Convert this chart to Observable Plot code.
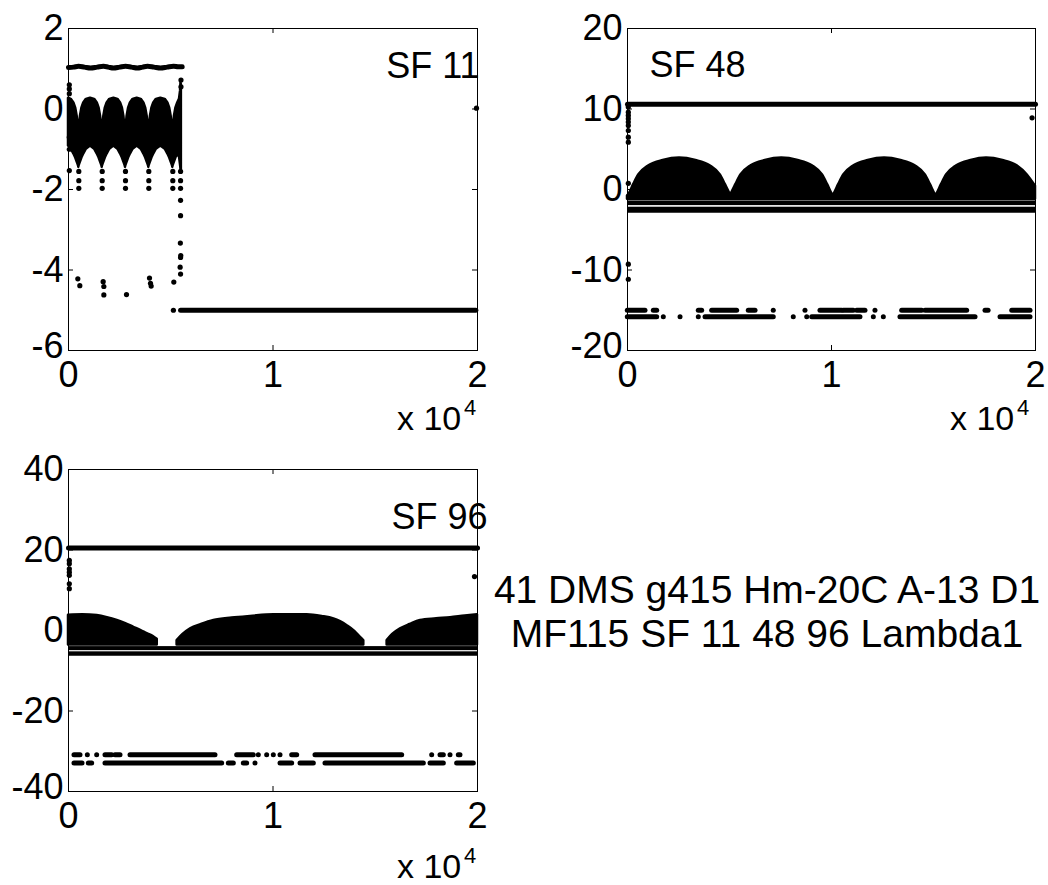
<!DOCTYPE html>
<html>
<head>
<meta charset="utf-8">
<script src="https://cdn.jsdelivr.net/npm/d3@7"></script>
<script src="https://cdn.jsdelivr.net/npm/@observablehq/plot@0.6"></script>
<style>
  html, body { margin: 0; padding: 0; background: #fff; }
  #fig { position: relative; width: 1048px; height: 885px; overflow: hidden; background: #fff; }
  #fig > svg, #fig > figure { position: absolute; margin: 0; }
  .ov text { font-family: "Liberation Sans", Arial, sans-serif; fill: #000; }
</style>
</head>
<body>
<div id="fig"></div>
<script>
// ---------------- shared axis data ----------------
const xTicks = [0, 10000, 20000];
const xMax = 20000;

// ---------------- SF 11 (top left) ----------------
const sf11YTicks = [-6, -4, -2, 0, 2];
const sf11WaveX = [0, 250, 490, 780, 1080, 1400, 1710, 1950, 2200, 2500, 2790, 3080, 3370, 3620, 3860, 4180, 4500, 4820, 5130, 5350, 5560];
const sf11WaveY = [1.03, 1.04, 1.06, 1.04, 1.02, 1.04, 1.06, 1.04, 1.02, 1.04, 1.06, 1.04, 1.02, 1.04, 1.06, 1.04, 1.02, 1.04, 1.06, 1.05, 1.05];
const sf11BandX = [
  0, 134, 264, 354, 424, 469, 494,
  504, 514, 539, 584, 654, 744, 874, 1076, 1278, 1408, 1498, 1568, 1613, 1638,
  1648, 1658, 1683, 1728, 1798, 1888, 2018, 2218, 2417, 2547, 2637, 2707, 2752, 2777,
  2787, 2797, 2822, 2867, 2937, 3027, 3157, 3357, 3557, 3687, 3777, 3847, 3892, 3917,
  3927, 3937, 3962, 4007, 4077, 4167, 4297, 4513, 4730, 4860, 4950, 5020, 5065, 5090,
  5100, 5110, 5135, 5180, 5250, 5340, 5430, 5480, 5500, 5520];
const sf11BandTop = [
  0.27, 0.24, 0.15, 0.02, -0.18, -0.4, -0.6,
  -0.8, -0.6, -0.4, -0.18, 0.02, 0.15, 0.24, 0.27, 0.24, 0.15, 0.02, -0.18, -0.4, -0.6,
  -0.8, -0.6, -0.4, -0.18, 0.02, 0.15, 0.24, 0.27, 0.24, 0.15, 0.02, -0.18, -0.4, -0.6,
  -0.8, -0.6, -0.4, -0.18, 0.02, 0.15, 0.24, 0.27, 0.24, 0.15, 0.02, -0.18, -0.4, -0.6,
  -0.8, -0.6, -0.4, -0.18, 0.02, 0.15, 0.24, 0.27, 0.24, 0.15, 0.02, -0.18, -0.4, -0.6,
  -0.8, -0.6, -0.4, -0.18, 0.02, 0.15, 0.25, 0.45, 0.65, 0.6];
const sf11BandBottom = [
  -0.92, -1.0, -1.12, -1.22, -1.32, -1.38, -1.42,
  -1.45, -1.42, -1.38, -1.32, -1.22, -1.12, -1.0, -0.92, -1.0, -1.12, -1.22, -1.32, -1.38, -1.42,
  -1.45, -1.42, -1.38, -1.32, -1.22, -1.12, -1.0, -0.92, -1.0, -1.12, -1.22, -1.32, -1.38, -1.42,
  -1.45, -1.42, -1.38, -1.32, -1.22, -1.12, -1.0, -0.92, -1.0, -1.12, -1.22, -1.32, -1.38, -1.42,
  -1.45, -1.42, -1.38, -1.32, -1.22, -1.12, -1.0, -0.92, -1.0, -1.12, -1.22, -1.32, -1.38, -1.42,
  -1.45, -1.42, -1.38, -1.32, -1.22, -1.12, -1.2, -1.4, -1.5, -1.5];
const sf11DotX = [40, 40, 40, 40, 40, 40,
  504, 504, 504, 1648, 1648, 1648, 2787, 2787, 2787, 3927, 3927, 3927, 5100, 5100, 5100,
  5480, 5480, 5480, 5480, 5480, 5470, 5490, 5480, 5460, 5480,
  5500, 5500,
  456, 554, 1695, 1728, 1728, 2836, 3961, 4010, 4042, 5150, 5130, 19950];
const sf11DotY = [0.6, 0.5, 0.38, -0.7, -1.0, -1.53,
  -1.55, -1.78, -1.97, -1.55, -1.78, -1.97, -1.55, -1.78, -1.97, -1.55, -1.78, -1.97, -1.55, -1.78, -1.97,
  -1.55, -1.78, -1.97, -2.27, -2.65, -3.33, -3.64, -3.69, -3.93, -4.1,
  0.72, 0.55,
  -4.22, -4.39, -4.29, -4.41, -4.62, -4.61, -4.2, -4.33, -4.4, -4.3, -5.0, 0.02];
const sf11FloorX = [5480, 19920];
const sf11FloorY = [-5, -5];

// ---------------- SF 48 (top right) ----------------
const sf48YTicks = [-20, -10, 0, 10, 20];
const sf48TopX = [0, 20000];
const sf48TopY = [10.6, 10.6];
const sf48DomeX = [0, 70, 300, 550, 1050, 1750, 2550, 3350, 4050, 4550, 4800, 5030, 5055,
  5080, 5310, 5560, 6060, 6760, 7560, 8360, 9060, 9560, 9810, 10040, 10080,
  10120, 10350, 10600, 11100, 11800, 12600, 13400, 14100, 14600, 14850, 15080, 15120,
  15160, 15390, 15640, 16140, 16840, 17600, 18400, 19100, 19600, 20000];
const sf48DomeTop = [-0.8, -0.6, 0.6, 1.8, 2.95, 3.6, 3.9, 3.6, 2.95, 1.8, 0.6, -0.6, -0.75,
  -0.6, 0.6, 1.8, 2.95, 3.6, 3.9, 3.6, 2.95, 1.8, 0.6, -0.6, -0.75,
  -0.6, 0.6, 1.8, 2.95, 3.6, 3.9, 3.6, 2.95, 1.8, 0.6, -0.6, -0.75,
  -0.6, 0.6, 1.8, 2.95, 3.6, 3.9, 3.6, 2.95, 1.8, 0.4];
const sf48DomeBottom = -1.2;
const sf48BandHigh = [-1.42, -2.2];
const sf48BandLow = [-2.0, -2.95];
const sf48DotX = [40, 40, 40, 40, 40, 40, 40, 40, 40, 40, 40, 40, 19832];
const sf48DotY = [10.24, 9.6, 9.2, 8.8, 8.37, 7.95, 7.33, 6.5, 5.88, 0.77, -9.28, -11.15, 8.9];
const sf48Row1Y = -15.0;
const sf48Row1Start = [15, 1290, 3495, 4150, 5945, 7170, 8725, 9460, 10600, 11260, 12155, 13465, 14610, 17550, 18860];
const sf48Row1End   = [882, 1455, 3660, 5375, 6275, 7170, 8725, 10525, 11090, 11665, 12155, 14445, 16650, 17700, 19755];
const sf48Row2Y = -15.8;
const sf48Row2Start = [15, 1780, 2600, 3495, 3825, 8150, 8810, 9055, 12075, 12565, 13380, 18285];
const sf48Row2End   = [1455, 1780, 2600, 3495, 7170, 8150, 8810, 11420, 12075, 12565, 17060, 19755];

// ---------------- SF 96 (bottom left) ----------------
const sf96YTicks = [-40, -20, 0, 20, 40];
const sf96TopX = [0, 20000];
const sf96TopY = [20.5, 20.5];
const sf96BlobX = [0, 700, 1400, 1900, 2380, 2800, 3195, 3550, 3850, 4150, 4340,
  5310, 5600, 5970, 6500, 7110, 8000, 8900, 10040, 11670, 12400, 12975, 13300, 13630, 14000, 14280, 14440,
  15580, 15850, 16235, 16700, 17210, 18000, 18680, 19400, 20000];
const sf96BlobTop = [3.8, 3.9, 3.7, 3.2, 2.5, 1.7, 0.8, 0.0, -0.8, -1.5, -2.2,
  -2.5, -1.0, 0.4, 1.5, 2.5, 3.1, 3.5, 3.9, 3.9, 3.5, 2.9, 2.2, 1.2, -0.2, -1.7, -2.5,
  -2.5, -1.0, 0.4, 1.5, 2.5, 2.9, 3.2, 3.6, 3.9];
const sf96BlobId = [0,0,0,0,0,0,0,0,0,0,0, 1,1,1,1,1,1,1,1,1,1,1,1,1,1,1,1, 2,2,2,2,2,2,2,2,2];
const sf96BlobBottom = -3.6;
const sf96BandHigh = [-4.0, -5.3];
const sf96BandLow = [-5.0, -6.4];
const sf96DotX = [40, 40, 40, 40, 40, 40, 40, 19853];
const sf96DotY = [17.4, 16.6, 15.3, 14.5, 13.7, 11.6, 10.4, 13.4];
const sf96Row1Y = -30.9;
const sf96Row1Start = [293, 945, 1402, 1809, 2298, 3032, 8248, 9306, 9715, 10040, 10367, 10938, 12078, 17784, 18191, 18680, 19086];
const sf96Row1End   = [587, 945, 1402, 2136, 2543, 7188, 9063, 9306, 9715, 10040, 10367, 11183, 16317, 17784, 18353, 18680, 19168];
const sf96Row2Y = -32.9;
const sf96Row2Start = [293, 994, 1809, 7840, 8573, 9144, 10367, 11345, 12567, 17702, 19005];
const sf96Row2End   = [685, 1157, 7514, 8084, 8736, 9144, 10938, 11997, 17375, 18353, 19820];

const panelTitles = ["SF 11", "SF 48", "SF 96"];
const noteLines = ["41 DMS g415 Hm-20C A-13 D1", "MF115 SF 11 48 96 Lambda1"];
const expLabel = ["x 10", "4"];

// ---------------- helpers ----------------
const FONT = "'Liberation Sans', Arial, Helvetica, sans-serif";
const zipXY = (xs, ys) => xs.map((x, i) => ({x, y: ys[i]}));
const rows = (starts, ends, y) => starts.map((s, i) => ({x1: s, x2: ends[i], y}));

function panel({yDomain, yTicks, marks, width, marginLeft, marginRight, title, titleAnchor, titleDx, titleDy, titleAlign}) {
  const tx = xMax * 5 / 409;
  const ty = (yDomain[1] - yDomain[0]) * 5 / 322;
  const yAxisOpts = {tickSize: 0, tickPadding: 5, tickFormat: d => String(d), label: null, fontSize: 36, fill: "#000"};
  return Plot.plot({
    width, height: 400,
    marginLeft, marginRight, marginTop: 28, marginBottom: 50,
    x: {domain: [0, xMax]},
    y: {domain: yDomain},
    style: {fontFamily: FONT, fontSize: "36px", color: "#000", background: "transparent", overflow: "visible"},
    marks: [
      ...marks,
      Plot.frame({stroke: "#000", strokeWidth: 1}),
      Plot.ruleY(yTicks, {y: d => d, x1: 0, x2: tx, stroke: "#000"}),
      Plot.ruleY(yTicks, {y: d => d, x1: xMax - tx, x2: xMax, stroke: "#000"}),
      Plot.ruleX(xTicks, {x: d => d, y1: yDomain[0], y2: yDomain[0] + ty, stroke: "#000"}),
      Plot.ruleX(xTicks, {x: d => d, y1: yDomain[1] - ty, y2: yDomain[1], stroke: "#000"}),
      Plot.axisY(yTicks.slice(1), yAxisOpts),
      Plot.axisY(yTicks.slice(0, 1), {...yAxisOpts, dy: -4}),
      Plot.axisX(xTicks, {tickSize: 0, tickPadding: 11, tickFormat: d => String(d / 1e4), label: null, fontSize: 36, fill: "#000"}),
      Plot.text([title], {frameAnchor: titleAnchor, text: d => d, dx: titleDx, dy: titleDy, textAnchor: titleAlign, lineAnchor: "top", fontSize: 36, fill: "#000"})
    ]
  });
}

function scatterMarks({lines, areas, bands, dots, rowSets}) {
  const m = [];
  for (const a of areas) m.push(Plot.areaY(a.data, {x: "x", y1: "y1", y2: "y2", z: a.z ? "z" : undefined, fill: "#000", stroke: "#000", strokeWidth: 2.5, curve: a.curve || "linear"}));
  for (const b of bands) m.push(Plot.rectY(b, {x1: 0, x2: xMax, y1: "y1", y2: "y2", fill: "#000", inset: 0}));
  for (const l of lines) m.push(Plot.line(l.data, {x: "x", y: "y", stroke: "#000", strokeWidth: 5, curve: l.curve || "linear"}));
  for (const r of rowSets) m.push(Plot.ruleY(r, {y: "y", x1: "x1", x2: "x2", stroke: "#000", strokeWidth: 5, strokeLinecap: "round"}));
  m.push(Plot.dot(dots, {x: "x", y: "y", r: 2.6, fill: "#000", stroke: "none"}));
  return m;
}

const fig = document.getElementById("fig");

// Panel SF 11
const p1 = panel({
  yDomain: [-6, 2], yTicks: sf11YTicks, width: 507, marginLeft: 68, marginRight: 30,
  title: panelTitles[0], titleAnchor: "top-right", titleDx: 2, titleDy: 24, titleAlign: "end",
  marks: scatterMarks({
    areas: [{data: sf11BandX.map((x, i) => ({x, y1: sf11BandBottom[i], y2: sf11BandTop[i]}))}],
    bands: [],
    lines: [{data: zipXY(sf11WaveX, sf11WaveY), curve: "catmull-rom"}, {data: zipXY(sf11FloorX, sf11FloorY)}],
    rowSets: [],
    dots: zipXY(sf11DotX, sf11DotY)
  })
});
p1.style.left = "0px"; p1.style.top = "0px";
fig.appendChild(p1);

// Panel SF 48
const p2 = panel({
  yDomain: [-20, 20], yTicks: sf48YTicks, width: 488, marginLeft: 67, marginRight: 13,
  title: panelTitles[1], titleAnchor: "top-left", titleDx: 22, titleDy: 23, titleAlign: "start",
  marks: scatterMarks({
    areas: [{data: sf48DomeX.map((x, i) => ({x, y1: sf48DomeBottom, y2: sf48DomeTop[i]})), curve: "monotone-x"}],
    bands: [sf48BandHigh.map((h, i) => ({y1: sf48BandLow[i], y2: h}))],
    lines: [{data: zipXY(sf48TopX, sf48TopY)}],
    rowSets: [rows(sf48Row1Start, sf48Row1End, sf48Row1Y), rows(sf48Row2Start, sf48Row2End, sf48Row2Y)],
    dots: zipXY(sf48DotX, sf48DotY)
  })
});
p2.style.left = "560px"; p2.style.top = "0px";
fig.appendChild(p2);

// Panel SF 96
const p3 = panel({
  yDomain: [-40, 40], yTicks: sf96YTicks, width: 507, marginLeft: 68, marginRight: 30,
  title: panelTitles[2], titleAnchor: "top-right", titleDx: 10, titleDy: 34, titleAlign: "end",
  marks: scatterMarks({
    areas: [{data: sf96BlobX.map((x, i) => ({x, y1: sf96BlobBottom, y2: sf96BlobTop[i], z: sf96BlobId[i]})), z: true, curve: "monotone-x"}],
    bands: [sf96BandHigh.map((h, i) => ({y1: sf96BandLow[i], y2: h}))],
    lines: [{data: zipXY(sf96TopX, sf96TopY)}],
    rowSets: [rows(sf96Row1Start, sf96Row1End, sf96Row1Y), rows(sf96Row2Start, sf96Row2End, sf96Row2Y)],
    dots: zipXY(sf96DotX, sf96DotY)
  })
});
p3.style.left = "0px"; p3.style.top = "441px";
fig.appendChild(p3);

// Overlay text: exponent labels and note
const NS = "http://www.w3.org/2000/svg";
const ov = document.createElementNS(NS, "svg");
ov.setAttribute("class", "ov");
ov.setAttribute("width", 1048); ov.setAttribute("height", 885);
ov.style.left = "0px"; ov.style.top = "0px"; ov.style.position = "absolute";
function addText(str, x, y, size, anchor) {
  const t = document.createElementNS(NS, "text");
  t.setAttribute("x", x); t.setAttribute("y", y);
  t.setAttribute("font-size", size);
  t.setAttribute("text-anchor", anchor || "start");
  t.textContent = str;
  ov.appendChild(t);
}
const expPos = [[397, 430], [950, 430], [397, 878]];
for (const [ex, ey] of expPos) {
  addText(expLabel[0], ex, ey, 34);
  addText(expLabel[1], ex + 67, ey - 15, 22);
}
addText(noteLines[0], 767, 603, 39, "middle");
addText(noteLines[1], 767, 647, 39, "middle");
fig.appendChild(ov);
</script>
</body>
</html>
